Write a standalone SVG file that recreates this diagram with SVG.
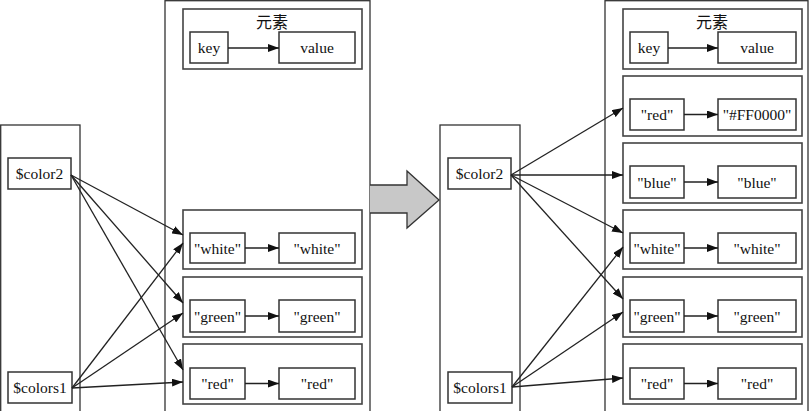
<svg xmlns="http://www.w3.org/2000/svg" width="809" height="411" viewBox="0 0 809 411">
<defs>
<style>
.col{fill:#fff;stroke:#333;stroke-width:1.3}
.cl{fill:#fff;stroke:#444;stroke-width:1.6}
.bx{fill:#fff;stroke:#333;stroke-width:1.5}
text{font-family:'Liberation Serif','DejaVu Serif',serif;fill:#111;text-anchor:middle}
.t{font-size:15.5px}
.cj{font-family:'Liberation Serif','Noto Sans CJK SC',serif;font-size:16px}
.e{stroke:#222;stroke-width:1.3;fill:none;marker-end:url(#ah)}
</style>
<marker id="ah" markerUnits="userSpaceOnUse" markerWidth="12" markerHeight="8" refX="11" refY="4" orient="auto">
<path d="M0,0 L11,4 L0,8 z" fill="#111"/>
</marker>
</defs>
<rect width="809" height="411" fill="#fff"/>

<!-- Left panel -->
<g id="L_vars">
<rect class="col" x="0.7" y="125" width="79.3" height="295"/>
</g>
<g id="L_hash">
<rect class="col" x="165" y="0.7" width="205" height="420"/>
</g>
<g id="L_elem">
<rect class="cl" x="183" y="9" width="179" height="60"/>
<text class="cj" x="272" y="28" font-family="Liberation Serif, Noto Sans CJK SC, serif">元素</text>
<rect class="bx" x="190" y="32" width="38" height="31"/>
<text class="t" x="209" y="53">key</text>
<rect class="bx" x="279" y="32" width="76" height="31"/>
<text class="t" x="317" y="53">value</text>
<line class="e" x1="228" y1="48" x2="279" y2="48"/>
</g>
<g id="L_white">
<rect class="cl" x="183" y="210" width="179" height="59"/>
<rect class="bx" x="190" y="233" width="55" height="30"/>
<text class="t" x="217.5" y="253.5">"white"</text>
<rect class="bx" x="279" y="233" width="76" height="30"/>
<text class="t" x="317" y="253.5">"white"</text>
<line class="e" x1="245" y1="248" x2="279" y2="248"/>
</g>
<g id="L_green">
<rect class="cl" x="183" y="277" width="179" height="60"/>
<rect class="bx" x="190" y="300" width="55" height="32"/>
<text class="t" x="217.5" y="321.5">"green"</text>
<rect class="bx" x="279" y="300" width="76" height="32"/>
<text class="t" x="317" y="321.5">"green"</text>
<line class="e" x1="245" y1="316" x2="279" y2="316"/>
</g>
<g id="L_red">
<rect class="cl" x="183" y="344" width="179" height="60"/>
<rect class="bx" x="190" y="368" width="55" height="31"/>
<text class="t" x="217.5" y="389">"red"</text>
<rect class="bx" x="279" y="368" width="76" height="31"/>
<text class="t" x="317" y="389">"red"</text>
<line class="e" x1="245" y1="383.5" x2="279" y2="383.5"/>
</g>
<g id="L_color2">
<rect class="bx" x="8" y="158" width="63" height="31"/>
<text class="t" x="39.5" y="179">$color2</text>
</g>
<g id="L_colors1">
<rect class="bx" x="8" y="372" width="64" height="31"/>
<text class="t" x="40" y="393">$colors1</text>
</g>

<!-- Transition arrow -->
<g id="bigArrow">
<path d="M370,185 L407,185 L407,171 L439,200 L407,228 L407,213 L370,213" fill="#c8c8c8" stroke="#333" stroke-width="1.3"/>
</g>

<!-- Right panel -->
<g id="R_vars">
<rect class="col" x="440" y="125" width="80" height="295"/>
</g>
<g id="R_hash">
<rect class="col" x="605" y="0.7" width="203" height="420"/>
</g>
<g id="R_elem">
<rect class="cl" x="623" y="9" width="179" height="60"/>
<text class="cj" x="712" y="28" font-family="Liberation Serif, Noto Sans CJK SC, serif">元素</text>
<rect class="bx" x="630" y="32" width="38" height="31"/>
<text class="t" x="649" y="53">key</text>
<rect class="bx" x="718" y="32" width="78" height="31"/>
<text class="t" x="757" y="53">value</text>
<line class="e" x1="668" y1="48" x2="718" y2="48"/>
</g>
<g id="R_red1">
<rect class="cl" x="623" y="76" width="179" height="60"/>
<rect class="bx" x="630" y="99" width="54" height="31"/>
<text class="t" x="657" y="120">"red"</text>
<rect class="bx" x="718" y="99" width="78" height="31"/>
<text class="t" x="757" y="120">"#FF0000"</text>
<line class="e" x1="684" y1="114.5" x2="718" y2="114.5"/>
</g>
<g id="R_blue">
<rect class="cl" x="623" y="143" width="179" height="60"/>
<rect class="bx" x="630" y="166" width="54" height="32"/>
<text class="t" x="657" y="187.5">"blue"</text>
<rect class="bx" x="718" y="166" width="78" height="32"/>
<text class="t" x="757" y="187.5">"blue"</text>
<line class="e" x1="684" y1="182" x2="718" y2="182"/>
</g>
<g id="R_white">
<rect class="cl" x="623" y="210" width="179" height="59"/>
<rect class="bx" x="630" y="233" width="54" height="30"/>
<text class="t" x="657" y="253.5">"white"</text>
<rect class="bx" x="718" y="233" width="78" height="30"/>
<text class="t" x="757" y="253.5">"white"</text>
<line class="e" x1="684" y1="248" x2="718" y2="248"/>
</g>
<g id="R_green">
<rect class="cl" x="623" y="277" width="179" height="60"/>
<rect class="bx" x="630" y="300" width="54" height="32"/>
<text class="t" x="657" y="321.5">"green"</text>
<rect class="bx" x="718" y="300" width="78" height="32"/>
<text class="t" x="757" y="321.5">"green"</text>
<line class="e" x1="684" y1="316" x2="718" y2="316"/>
</g>
<g id="R_red2">
<rect class="cl" x="623" y="344" width="179" height="60"/>
<rect class="bx" x="630" y="368" width="54" height="31"/>
<text class="t" x="657" y="389">"red"</text>
<rect class="bx" x="718" y="368" width="78" height="31"/>
<text class="t" x="757" y="389">"red"</text>
<line class="e" x1="684" y1="383.5" x2="718" y2="383.5"/>
</g>
<g id="R_color2">
<rect class="bx" x="448" y="158" width="63" height="31"/>
<text class="t" x="479.5" y="179">$color2</text>
</g>
<g id="R_colors1">
<rect class="bx" x="448" y="372" width="64" height="31"/>
<text class="t" x="480" y="393">$colors1</text>
</g>

<g id="connectors">
<line class="e" x1="71" y1="175" x2="183" y2="235"/>
<line class="e" x1="71" y1="175" x2="183" y2="303"/>
<line class="e" x1="71" y1="175" x2="183" y2="370"/>
<line class="e" x1="72" y1="388" x2="183" y2="243"/>
<line class="e" x1="72" y1="388" x2="183" y2="313"/>
<line class="e" x1="72" y1="388" x2="183" y2="382"/>
<line class="e" x1="511" y1="175" x2="623" y2="108"/>
<line class="e" x1="511" y1="175" x2="623" y2="175"/>
<line class="e" x1="511" y1="175" x2="623" y2="233"/>
<line class="e" x1="511" y1="175" x2="623" y2="299"/>
<line class="e" x1="512" y1="387" x2="623" y2="247"/>
<line class="e" x1="512" y1="387" x2="623" y2="312"/>
<line class="e" x1="512" y1="387" x2="623" y2="378"/>
</g>
</svg>
